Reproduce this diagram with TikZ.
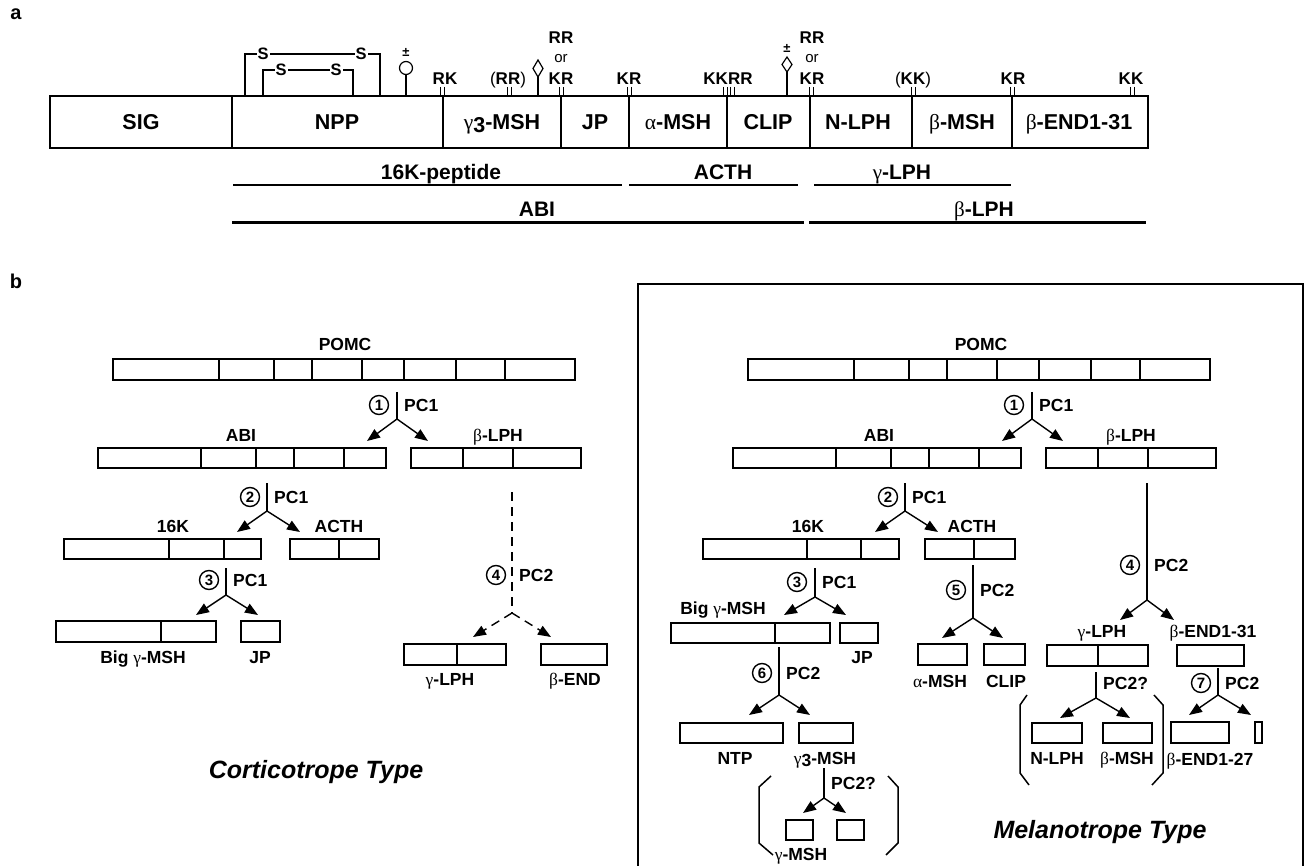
\documentclass[tikz,border=0pt]{standalone}
\usepackage{fontspec}
\setmainfont{Liberation Sans}
\newfontfamily\grk{Liberation Serif}
\usetikzlibrary{arrows.meta,fit}
\newcommand\G[1]{{\grk\mdseries #1}}
\newcommand\fs[1]{\fontsize{#1}{#1}\selectfont}
\newcommand\segs[6]{%
  \node[pbox, fit={(#2,#3)(#4,#5)}] (#1) {};
  \foreach \dd in {#6} {\draw[pline] (\dd,#3) -- (\dd,#5);}%
}
\newcommand\onebox[5]{\node[pbox, fit={(#2,#3)(#4,#5)}] (#1) {};}
\newcommand\fork[8]{%
  \coordinate (#1t) at (#2,#3);
  \coordinate (#1) at (#2,#4);
  \coordinate (#1l) at (#5,#7);
  \coordinate (#1r) at (#6,#7);
  \draw[conn,#8] (#1t) -- (#1);
  \draw[arr,#8] (#1) -- (#1l);
  \draw[arr,#8] (#1) -- (#1r);
}
\newcommand\ticks[1]{\foreach \tx in {#1} {\draw[line width=1pt] (\tx,87) -- (\tx,96);}}
\tikzset{
 barlab/.style={font=\fs{21.5}\bfseries, anchor=base, inner sep=0},
 tlab/.style={font=\fs{17}\bfseries, anchor=base, inner sep=0},
 orlab/.style={font=\fs{15}\mdseries, anchor=base, inner sep=0},
 slab/.style={font=\fs{21}\bfseries, anchor=base, inner sep=0},
 blab/.style={font=\fs{17.5}\bfseries, anchor=base, inner sep=0},
 pclab/.style={font=\fs{17.5}\bfseries, anchor=base west, inner sep=0},
 ttl/.style={font=\fs{25}\bfseries\itshape, anchor=base, inner sep=0},
 pbox/.style={draw, line width=1.5pt, inner sep=0},
 pline/.style={line width=1.5pt},
 conn/.style={line width=1.4pt},
 arr/.style={line width=1.4pt, -{Triangle[length=13pt,width=10pt]}},
 cnum/.style={draw, circle, line width=1.4pt, minimum size=19pt, inner sep=0, font=\fs{15}\bfseries},
 sl/.style={font=\fs{16.5}\bfseries, fill=white, inner sep=1pt},
 plab/.style={font=\fs{20}\bfseries, anchor=base, inner sep=0},
}
\begin{document}
\begin{tikzpicture}[x=1pt,y=-1pt]
\useasboundingbox (0,0) rectangle (1309,866);
\fill[white] (0,0) rectangle (1309,866);

% ---------- panel a ----------
\node[plab] (la) at (16,20) {a};
\node[draw, line width=2pt, inner sep=0, fit={(50,96)(1148,148)}] (bar) {};
\foreach \d in {232,443,561,629,727,810,912,1012} {\draw[line width=2pt] (\d,96) -- (\d,148);}
\node[barlab] (sig) at (141,130) {SIG};
\node[barlab] (npp) at (337,130) {NPP};
\node[barlab] (g3) at (502,130) {\G{γ}\raisebox{-3pt}{3}-MSH};
\node[barlab] (jp) at (595,130) {JP};
\node[barlab] (am) at (678,130) {\G{α}-MSH};
\node[barlab] (clip) at (768,130) {CLIP};
\node[barlab] (nlph) at (858,130) {N-LPH};
\node[barlab] (bmsh) at (962,130) {\G{β}-MSH};
\node[barlab] (bend) at (1079,130) {\G{β}-END1-31};

% disulfide brackets
\draw[line width=1.2pt] (245,96) -- (245,54) -- (380,54) -- (380,96);
\node[sl] (s1) at (263,54) {S};
\node[sl] (s2) at (361,54) {S};
\draw[line width=1.2pt] (263,96) -- (263,70) -- (353,70) -- (353,96);
\node[sl] (s3) at (281,70) {S};
\node[sl] (s4) at (336,70) {S};
% lollipop
\draw[line width=1.2pt] (406,96) -- (406,75);
\draw[line width=1.2pt] (406,68) circle (6.5);
\node[font=\fs{13}\bfseries, inner sep=0] (pm1) at (406,52) {±};
% diamonds
\draw[line width=1.2pt] (538,96) -- (538,77);
\draw[line width=1.2pt] (538,60) -- (543,68.5) -- (538,77) -- (533,68.5) -- cycle;
\draw[line width=1.2pt] (787,96) -- (787,72);
\draw[line width=1.2pt] (787,57) -- (792,64.5) -- (787,72) -- (782,64.5) -- cycle;
\node[font=\fs{13}\bfseries, inner sep=0] (pm2) at (787,48) {±};
% ticks
\ticks{440,444}
\ticks{507,511}
\ticks{559,563}
\ticks{627,631}
\ticks{723.5,727,730.5,734}
\ticks{809,813}
\ticks{911,915}
\ticks{1010,1014}
\ticks{1130,1134}
\node[tlab] (t1) at (445,85) {RK};
\node[tlab] (t2) at (508,85) {{\mdseries(}RR{\mdseries)}};
\node[tlab] (t3) at (561,85) {KR};
\node[orlab] (t3b) at (561,63) {or};
\node[tlab] (t3c) at (561,44) {RR};
\node[tlab] (t4) at (629,85) {KR};
\node[tlab] (t5) at (728,85) {KKRR};
\node[tlab] (t6) at (812,85) {KR};
\node[orlab] (t6b) at (812,63) {or};
\node[tlab] (t6c) at (812,44) {RR};
\node[tlab] (t7) at (913,85) {{\mdseries(}KK{\mdseries)}};
\node[tlab] (t8) at (1013,85) {KR};
\node[tlab] (t9) at (1131,85) {KK};

% region lines
\coordinate (l16a) at (233,185); \coordinate (l16b) at (622,185);
\coordinate (lACa) at (629,185); \coordinate (lACb) at (798,185);
\coordinate (lGLa) at (814,185); \coordinate (lGLb) at (1011,185);
\coordinate (lABa) at (232,223); \coordinate (lABb) at (804,223);
\coordinate (lBLa) at (809,223); \coordinate (lBLb) at (1146,223);
\draw[line width=1.7pt] (l16a) -- (l16b);
\draw[line width=1.7pt] (lACa) -- (lACb);
\draw[line width=1.7pt] (lGLa) -- (lGLb);
\draw[line width=3pt] (lABa) -- (lABb);
\draw[line width=3pt] (lBLa) -- (lBLb);
\node[slab] (r16) at (441,180) {16K-peptide};
\node[slab] (rAC) at (723,180) {ACTH};
\node[slab] (rGL) at (902,180) {\G{γ}-LPH};
\node[slab] (rAB) at (537,217) {ABI};
\node[slab] (rBL) at (984,217) {\G{β}-LPH};

% ---------- panel b ----------
\node[plab] (lb) at (16,289) {b};

% Corticotrope (left)
\node[blab] (LPOMCt) at (345,351) {POMC};
\segs{LPOMC}{113}{359}{575}{380}{219,274,312,362,404,456,505}
\fork{Lf1}{397}{392}{419}{367}{428}{441}{}
\node[cnum] (Lc1) at (379,405) {1};
\node[pclab] (Lp1) at (404,411) {PC1};
\node[blab] (LABIt) at (241,441) {ABI};
\segs{LABI}{98}{448}{386}{468}{201,256,294,344}
\node[blab] (LBLt) at (498,441) {\G{β}-LPH};
\segs{LBL}{411}{448}{581}{468}{463,513}
\fork{Lf2}{267}{483}{511}{237}{300}{532}{}
\node[cnum] (Lc2) at (250,497) {2};
\node[pclab] (Lp2) at (274,503) {PC1};
\node[blab] (L16t) at (173,532) {16K};
\segs{L16}{64}{539}{261}{559}{169,224}
\node[blab] (LACt) at (339,532) {ACTH};
\segs{LAC}{290}{539}{379}{559}{339}
\fork{Lf3}{226}{568}{595}{196}{258}{615}{}
\node[cnum] (Lc3) at (209,580) {3};
\node[pclab] (Lp3) at (233,586) {PC1};
\segs{LBG}{56}{621}{216}{642}{161}
\node[blab] (LBGt) at (143,663) {Big \G{γ}-MSH};
\onebox{LJP}{241}{621}{280}{642}
\node[blab] (LJPt) at (260,663) {JP};
\fork{Lf4}{512}{492}{613}{473}{551}{637}{dash pattern=on 9pt off 6pt}
\node[cnum] (Lc4) at (496,575) {4};
\node[pclab] (Lp4) at (519,581) {PC2};
\segs{LGL}{404}{644}{506}{665}{457}
\node[blab] (LGLt) at (450,685) {\G{γ}-LPH};
\onebox{LBE}{541}{644}{607}{665}
\node[blab] (LBEt) at (575,685) {\G{β}-END};
\node[ttl] (Lttl) at (316,778) {Corticotrope Type};

% Melanotrope (right)
\draw[line width=1.5pt] (638,866) -- (638,284) -- (1303,284) -- (1303,866);
\node[blab] (RPOMCt) at (981,351) {POMC};
\segs{RPOMC}{748}{359}{1210}{380}{854,909,947,997,1039,1091,1140}
\fork{Rf1}{1032}{392}{419}{1002}{1063}{441}{}
\node[cnum] (Rc1) at (1014,405) {1};
\node[pclab] (Rp1) at (1039,411) {PC1};
\node[blab] (RABIt) at (879,441) {ABI};
\segs{RABI}{733}{448}{1021}{468}{836,891,929,979}
\node[blab] (RBLt) at (1131,441) {\G{β}-LPH};
\segs{RBL}{1046}{448}{1216}{468}{1098,1148}
\fork{Rf2}{905}{483}{511}{875}{938}{532}{}
\node[cnum] (Rc2) at (888,497) {2};
\node[pclab] (Rp2) at (912,503) {PC1};
\node[blab] (R16t) at (808,532) {16K};
\segs{R16}{703}{539}{899}{559}{807,861}
\node[blab] (RACt) at (972,532) {ACTH};
\segs{RAC}{925}{539}{1015}{559}{974}
\fork{Rf3}{815}{568}{597}{784}{846}{615}{}
\node[cnum] (Rc3) at (797,582) {3};
\node[pclab] (Rp3) at (822,588) {PC1};
\node[blab] (RBGt) at (723,614) {Big \G{γ}-MSH};
\segs{RBG}{671}{623}{830}{643}{775}
\onebox{RJP}{840}{623}{878}{643}
\node[blab] (RJPt) at (862,663) {JP};
\fork{Rf6}{779}{647}{695}{749}{810}{715}{}
\node[cnum] (Rc6) at (762,673) {6};
\node[pclab] (Rp6) at (786,679) {PC2};
\onebox{RNTP}{680}{723}{783}{743}
\node[blab] (RNTPt) at (735,764) {NTP};
\onebox{RG3}{799}{723}{853}{743}
\node[blab] (RG3t) at (825,764) {\G{γ}\raisebox{-2.5pt}{3}-MSH};
\fork{Rfg}{824}{768}{798}{803}{846}{813}{}
\node[pclab] (Rpg) at (831,789) {PC2?};
\onebox{RGa}{786}{820}{813}{840}
\onebox{RGb}{837}{820}{864}{840}
\node[blab] (RGMt) at (801,860) {\G{γ}-MSH};
\draw[pline] (771,776) -- (759,787) -- (759,843) -- (773,855);
\draw[pline] (888,776) -- (898,787) -- (898,843) -- (886,855);
\fork{Rf5}{973}{565}{618}{942}{1003}{638}{}
\node[cnum] (Rc5) at (956,590) {5};
\node[pclab] (Rp5) at (980,596) {PC2};
\onebox{RAM}{918}{644}{967}{665}
\node[blab] (RAMt) at (940,687) {\G{α}-MSH};
\onebox{RCL}{984}{644}{1025}{665}
\node[blab] (RCLt) at (1006,687) {CLIP};
\fork{Rf4}{1147}{483}{600}{1120}{1174}{620}{}
\node[cnum] (Rc4) at (1130,565) {4};
\node[pclab] (Rp4) at (1154,571) {PC2};
\node[blab] (RGLt) at (1102,637) {\G{γ}-LPH};
\segs{RGL}{1047}{645}{1148}{666}{1098}
\node[blab] (RBE1t) at (1213,637) {\G{β}-END1-31};
\onebox{RBE1}{1177}{645}{1244}{666}
\fork{Rfl}{1096}{672}{698}{1060}{1130}{718}{}
\node[pclab] (Rpl) at (1103,689) {PC2?};
\onebox{RNL}{1032}{723}{1082}{743}
\node[blab] (RNLt) at (1057,764) {N-LPH};
\onebox{RBM}{1103}{723}{1152}{743}
\node[blab] (RBMt) at (1127,764) {\G{β}-MSH};
\draw[pline] (1027,695) -- (1020,705) -- (1020,773) -- (1029,785);
\draw[pline] (1154,695) -- (1163,705) -- (1163,773) -- (1152,785);
\fork{Rf7}{1218}{668}{695}{1189}{1251}{715}{}
\node[cnum] (Rc7) at (1201,683) {7};
\node[pclab] (Rp7) at (1225,689) {PC2};
\onebox{RB27}{1171}{722}{1229}{743}
\onebox{Rtiny}{1255}{722}{1262}{743}
\node[blab] (RB27t) at (1210,765) {\G{β}-END1-27};
\node[ttl] (Rttl) at (1100,838) {Melanotrope Type};
\end{tikzpicture}
\end{document}
